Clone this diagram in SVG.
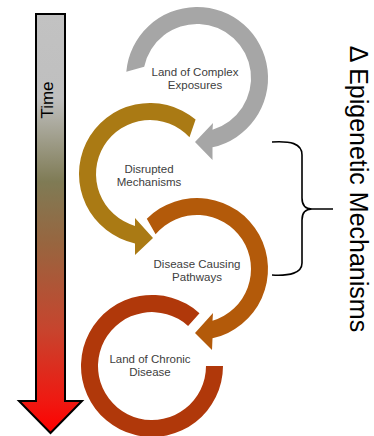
<svg xmlns="http://www.w3.org/2000/svg" width="374" height="436" viewBox="0 0 374 436">
<defs>
<linearGradient id="timeGrad" x1="0" y1="14" x2="0" y2="433" gradientUnits="userSpaceOnUse">
<stop offset="0" stop-color="#C2C2C2"/>
<stop offset="0.2" stop-color="#BFBFBF"/>
<stop offset="0.4" stop-color="#7F7B55"/>
<stop offset="0.55" stop-color="#98653F"/>
<stop offset="0.75" stop-color="#C6452E"/>
<stop offset="0.92" stop-color="#EE1A12"/>
<stop offset="1" stop-color="#FF0000"/>
</linearGradient>
<style>
.lbl{font-family:"Liberation Sans",Arial,sans-serif;font-size:11.5px;fill:#404040;text-anchor:middle}
.big{font-family:"Liberation Sans",Arial,sans-serif;fill:#000;text-anchor:middle}
</style>
</defs>
<rect width="374" height="436" fill="#FFFFFF"/>
<g id="time-arrow">
<path d="M36,14 L65,14 L65,401 L82,401 L50.5,433 L19,401 L36,401 Z" fill="url(#timeGrad)" stroke="#000" stroke-width="2" stroke-linejoin="miter"/>
<text class="big" font-size="17" transform="translate(53,100) rotate(-90)">Time</text>
</g>
<g id="connectors">
<path d="M272,142 C290,141 302,143 302,155 L302,198 C302,205 305,209 312,209 L333,209 M312,209 C305,209 302,213 302,220 L302,263 C302,273 290,276 272,275" fill="none" stroke="#000" stroke-width="1.6"/>
</g>
<g id="land-of-complex-exposures">
<path d="M126.3,71.8 A71,71 0 1 1 212.5,147.3 L212.5,160 L195,142 L213,123 L212.5,129.7 A54,54 0 1 0 144.2,66.8 Z" fill="#A6A6A6"/>
<text class="lbl" x="195" y="76">Land of Complex</text>
<text class="lbl" x="195" y="89">Exposures</text>
</g>
<g id="disrupted-mechanisms">
<path d="M195.6,119.6 A71,71 0 1 0 135,243.4 L135,255 L153,238 L135,218 L135,225.9 A54,54 0 1 1 189.5,137.2 Z" fill="#AA7A14"/>
<text class="lbl" x="149" y="173">Disrupted</text>
<text class="lbl" x="149" y="186">Mechanisms</text>
</g>
<g id="disease-causing-pathways">
<path d="M146.8,218.8 A71,71 0 1 1 212.5,338.3 L212,350 L195,333 L213,313 L212.5,320.7 A54,54 0 1 0 155.6,234.3 Z" fill="#B35A0A"/>
<text class="lbl" x="197" y="268">Disease Causing</text>
<text class="lbl" x="197" y="281">Pathways</text>
</g>
<g id="land-of-chronic-disease">
<path d="M223,366 A71,71 0 1 1 199.5,313.2 L188.1,325.9 A54,54 0 1 0 206,366 Z" fill="#B0380A"/>
<text class="lbl" x="150" y="363">Land of Chronic</text>
<text class="lbl" x="150" y="376">Disease</text>
</g>
<g id="epigenetic-label">
<text class="big" font-size="25" transform="translate(350,189) rotate(90)">Δ Epigenetic Mechanisms</text>
</g>
</svg>
